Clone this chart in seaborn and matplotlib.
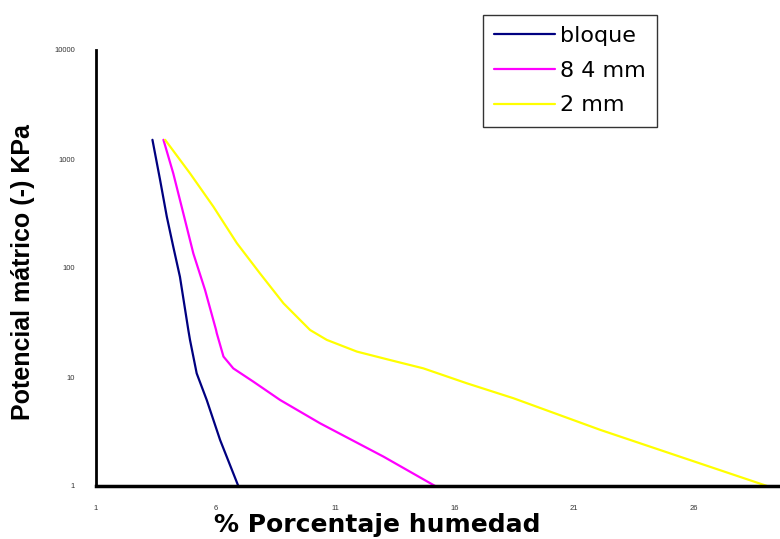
import numpy as np
import pandas as pd
import matplotlib
matplotlib.use("Agg")
import matplotlib.pyplot as plt
import seaborn as sns

# Data
bloque_x = [3.36, 3.68, 3.96, 4.23, 4.51, 4.86, 4.93, 5.21, 5.63, 6.19, 6.95]
bloque_y = [1500, 642, 296, 157, 83, 27, 21.9, 10.8, 6.15, 2.64, 1]

mm84_x = [3.82, 4.23, 4.65, 5.07, 5.56, 6.02, 6.05, 6.33, 6.74, 7.58, 8.70, 10.37, 13.02, 15.18]
mm84_y = [1500, 739, 318, 136, 62.8, 27, 25.2, 15.4, 12.0, 9.06, 6.15, 3.76, 1.86, 1]

mm2_x = [3.89, 4.93, 5.91, 6.89, 7.86, 8.84, 9.95, 10.65, 11.91, 13.30, 14.69, 16.51, 18.46, 22.09, 29.06]
mm2_y = [1500, 739, 365, 169, 89, 47.4, 27, 21.9, 17.1, 14.3, 12.0, 8.75, 6.38, 3.27, 1]

series_names = ["bloque", "8 4 mm", "2 mm"]
series_colors = ["#000080", "#FF00FF", "#FFFF00"]

x_ticks = [1, 6, 11, 16, 21, 26]
y_ticks = [1, 10, 100, 1000, 10000]

frames = []
for name, xs, ys in zip(series_names, [bloque_x, mm84_x, mm2_x], [bloque_y, mm84_y, mm2_y]):
    frames.append(pd.DataFrame({"x": xs, "y": ys, "serie": name}))
df = pd.concat(frames, ignore_index=True)

sns.set_style("white")
plt.rcParams["font.family"] = ["Liberation Sans", "DejaVu Sans"]

fig = plt.figure(figsize=(7.8, 5.39), dpi=100)
ax = fig.add_axes([96 / 780, 1 - 486 / 539, 1 - 96 / 780, (486 - 50) / 539])

sns.lineplot(data=df, x="x", y="y", hue="serie", palette=series_colors,
             hue_order=series_names, sort=False, estimator=None,
             linewidth=1.6, ax=ax)
for ln in ax.get_lines():
    ln.set_solid_joinstyle("round")

ax.set_yscale("log")
ax.set_xlim(1, 29.6)
ax.set_ylim(1, 10000)
ax.set_xticks(x_ticks)
ax.set_xticklabels([str(t) for t in x_ticks])
ax.set_yticks(y_ticks)
ax.set_yticklabels([str(t) for t in y_ticks])
ax.minorticks_off()
ax.tick_params(axis="both", direction="out", length=3, width=1, color="#444444",
               labelsize=5.5, labelcolor="#333333")
ax.tick_params(axis="x", pad=11)
ax.tick_params(axis="y", pad=12)

for s in ["top", "right"]:
    ax.spines[s].set_visible(False)
ax.spines["left"].set_linewidth(2)
ax.spines["bottom"].set_linewidth(2.5)
ax.spines["left"].set_color("black")
ax.spines["bottom"].set_color("black")

ax.set_xlabel("% Porcentaje humedad", fontsize=18, fontweight="bold",
              family=["DejaVu Sans"], color="black")
ax.xaxis.set_label_coords((377 - 96) / (780 - 96), -(525 - 486) / (486 - 50))
ax.xaxis.label.set_verticalalignment("center")
ax.set_ylabel("Potencial mátrico (-) KPa", fontsize=18, fontweight="bold", color="black")
ax.yaxis.set_label_coords(-(96 - 23) / (780 - 96), (486 - 272) / (486 - 50))
ax.yaxis.label.set_verticalalignment("center")

leg = ax.legend(loc="upper left", bbox_to_anchor=(483 / 780, 1 - 15 / 539),
                bbox_transform=fig.transFigure, frameon=True, fancybox=False,
                prop={"family": "DejaVu Sans", "size": 16},
                handlelength=2.75, handletextpad=0.22,
                borderpad=0.5, labelspacing=0.66, borderaxespad=0, title=None)
leg.get_frame().set_edgecolor("black")
leg.get_frame().set_linewidth(1)
for line in leg.get_lines():
    line.set_linewidth(1.6)
for t in leg.get_texts():
    t.set_color("black")

fig.savefig("out.png", dpi=100)
